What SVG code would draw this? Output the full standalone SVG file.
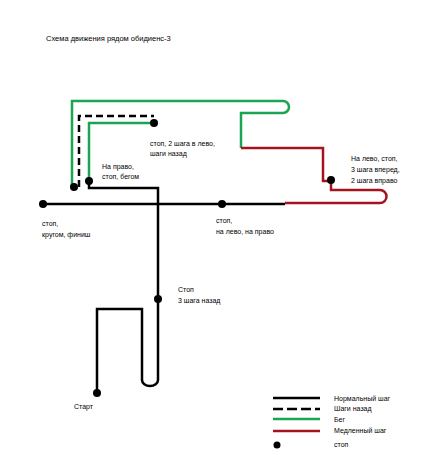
<svg xmlns="http://www.w3.org/2000/svg" width="447" height="455" viewBox="0 0 447 455">
<style>
text{font-family:"Liberation Sans",Arial,sans-serif;font-size:7px;fill:#000}
.n{fill:none;stroke:#000;stroke-width:2.5}
.d{fill:none;stroke:#000;stroke-width:2.5;stroke-dasharray:7,4}
.g{fill:none;stroke:#1aa552;stroke-width:2.5}
.r{fill:none;stroke:#a5141c;stroke-width:2.5}
.dot{fill:#000}
</style>
<rect width="447" height="455" fill="#fff"/>
<text x="46" y="41" style="font-size:7.5px">Схема движения рядом обидиенс-3</text>
<g id="connectors">
<path class="g" d="M72,187 V101 H283 a6,6 0 0 1 0,12 H241 V148"/>
<path class="r" d="M241,148 H323 V181 H331 V190 H380 a6.5,6.5 0 0 1 0,13 H285"/>
<path class="d" d="M79,187 V116 H154"/>
<path class="g" d="M89,181 V123 H154"/>
<path class="n" d="M89,181 V188 H158 V380 a8,6 0 0 1 -16,0 V309 H97 V393"/>
<path class="n" d="M43,204 H285"/>
</g>
<g id="node-finish"><circle class="dot" cx="43" cy="204" r="4"/><text x="42" y="226">стоп,</text><text x="42" y="237">кругом, финиш</text></g>
<g id="node-left-right"><circle class="dot" cx="222" cy="204" r="4"/><text x="216" y="223">стоп,</text><text x="216" y="234">на лево, на право</text></g>
<g id="node-start"><circle class="dot" cx="97" cy="393" r="4"/><text x="74" y="409">Старт</text></g>
<g id="node-back3"><circle class="dot" cx="158" cy="299" r="4"/><text x="178" y="292">Стоп</text><text x="178" y="303">3 шага назад</text></g>
<g id="node-run"><circle class="dot" cx="89" cy="181" r="4"/><text x="102" y="169">На право,</text><text x="102" y="179">стоп, бегом</text></g>
<g id="node-left2"><circle class="dot" cx="154" cy="123" r="4"/><text x="150" y="146">стоп, 2 шага в лево,</text><text x="150" y="156">шаги назад</text></g>
<g id="node-corner"><circle class="dot" cx="74" cy="187" r="4"/></g>
<g id="node-slow"><circle class="dot" cx="331" cy="180" r="4"/><text x="351" y="161">На лево, стоп,</text><text x="351" y="172">3 шага вперед,</text><text x="351" y="183">2 шага вправо</text></g>
<g id="legend">
<line class="n" x1="273" y1="398" x2="320" y2="398"/>
<line class="d" x1="273" y1="409" x2="320" y2="409" style="stroke-dasharray:10,4"/>
<line class="g" x1="273" y1="419" x2="320" y2="419"/>
<line class="r" x1="273" y1="431" x2="320" y2="431"/>
<circle class="dot" cx="277" cy="445" r="3.5"/>
<text x="334" y="401">Нормальный шаг</text>
<text x="334" y="411">Шаги назад</text>
<text x="334" y="422">Бег</text>
<text x="334" y="433">Медленный шаг</text>
<text x="334" y="447">стоп</text>
</g>
</svg>
